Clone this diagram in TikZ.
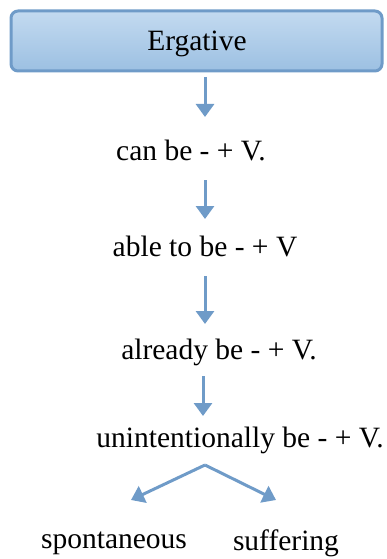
\documentclass[tikz,border=0pt]{standalone}
\usepackage{fontspec}
\setmainfont{Liberation Serif}
\newfontfamily\timesfont{Liberation Serif}
\usepackage{tikz}
\usetikzlibrary{arrows.meta}
\definecolor{arrowblue}{HTML}{6F9BC8}
\definecolor{boxtop}{HTML}{C3DAF0}
\definecolor{boxbot}{HTML}{9CC0E2}
\tikzset{node distance=2.0cm, auto}
\tikzset{
  headbox/.style={draw=arrowblue, line width=3pt, rounded corners=7pt,
    top color=boxtop, bottom color=boxbot,
    minimum width=371pt, minimum height=60pt, inner sep=0pt},
  stage/.style={inner sep=0pt, font=\timesfont\fontsize{29.5}{32}\selectfont},
  flow/.style={draw=arrowblue, line width=3pt,
    -{Triangle[length=13pt,width=18pt]}}
}
\begin{document}
\begin{tikzpicture}[x=1pt, y=-1pt]
\useasboundingbox (0,0) rectangle (386,559);
\node[headbox] (erg) at (196.5,41) {};
\node[stage] (ergtxt) at (197,44) {Ergative};
\node[stage] (can) at (191,150) {can be - + V.};
\node[stage] (able) at (205,246) {able to be - + V};
\node[stage] (already) at (219,352) {already be - + V.};
\node[stage] (unint) at (240,440) {unintentionally be - + V.};
\node[stage] (spon) at (114,543) {spontaneous};
\node[stage] (suff) at (286,543) {suffering};
% arrow ends
\coordinate (a1) at (205,77);  \coordinate (b1) at (205,117);
\coordinate (a2) at (205,180); \coordinate (b2) at (205,219);
\coordinate (a3) at (205,276); \coordinate (b3) at (205,324);
\coordinate (a4) at (203,376); \coordinate (b4) at (203,416);
\coordinate (fork) at (205,465);
\coordinate (left) at (131,500);
\coordinate (right) at (276,500);
\draw[flow] (a1) -- (b1);
\draw[flow] (a2) -- (b2);
\draw[flow] (a3) -- (b3);
\draw[flow] (a4) -- (b4);
\draw[flow] (fork) -- (left);
\draw[flow] (fork) -- (right);
\end{tikzpicture}
\end{document}
